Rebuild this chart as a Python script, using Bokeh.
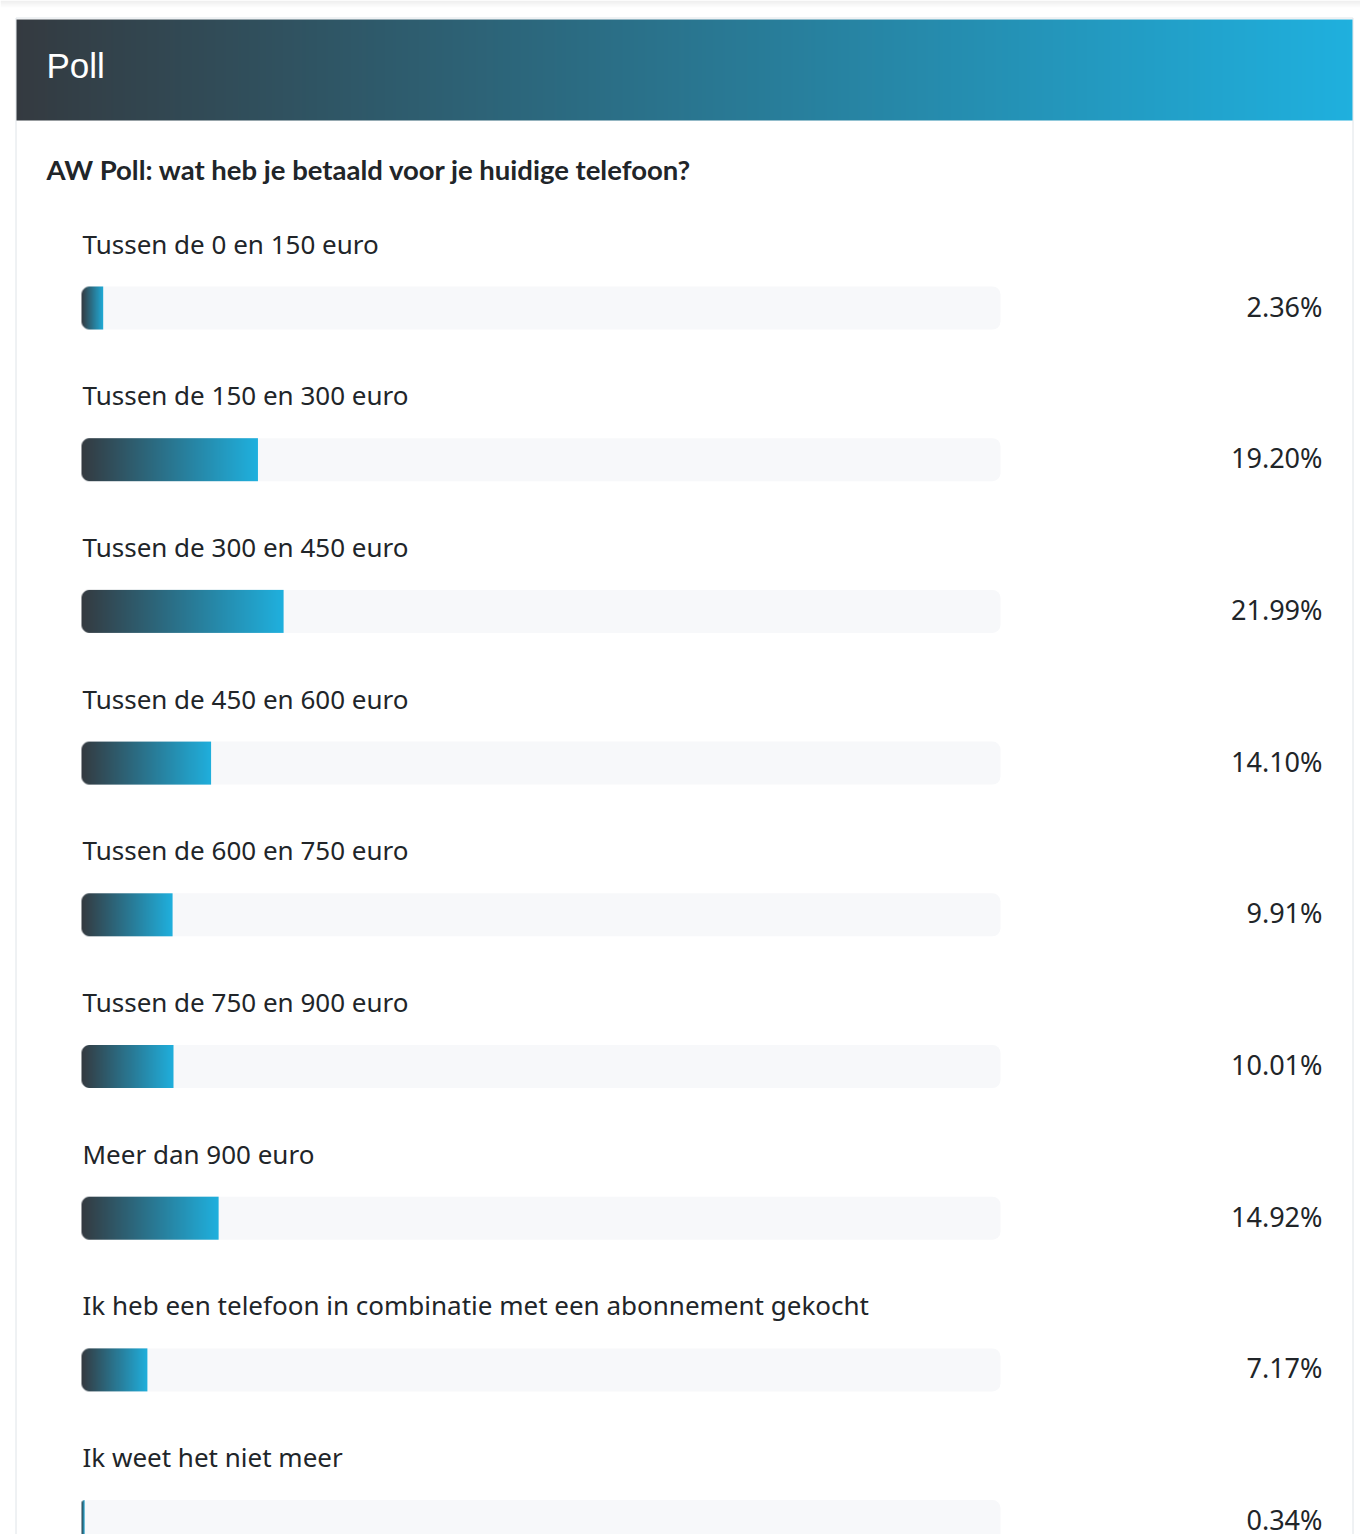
import numpy as np
from bokeh.plotting import figure
from bokeh.models import Range1d
from bokeh.core.properties import value
from bokeh.embed import file_html
from bokeh.resources import INLINE

# ---------------- data ----------------
header_text = "Poll"
question = "AW Poll: wat heb je betaald voor je huidige telefoon?"
options = [
    "Tussen de 0 en 150 euro",
    "Tussen de 150 en 300 euro",
    "Tussen de 300 en 450 euro",
    "Tussen de 450 en 600 euro",
    "Tussen de 600 en 750 euro",
    "Tussen de 750 en 900 euro",
    "Meer dan 900 euro",
    "Ik heb een telefoon in combinatie met een abonnement gekocht",
    "Ik weet het niet meer",
]
percentages = [2.36, 19.20, 21.99, 14.10, 9.91, 10.01, 14.92, 7.17, 0.34]

# ---------------- layout (picture pixels) ----------------
ORIGIN = 0
W, H = 1360, 1534
PAGE_BOTTOM = ORIGIN + H
TRACK_L, TRACK_R = 81, 1000
PX_PER_PCT = (TRACK_R - TRACK_L) / 100.0
ROW0, ROW_STEP = 307.5, 151.7
BAR_H = 43
RADIUS = 8

DARK = np.array([52, 58, 64], dtype=float)
CYAN = np.array([31, 176, 222], dtype=float)
LABEL_FONT = "Noto Sans"


def X(px):   # picture x -> data x (percent units)
    return (px - TRACK_L) / PX_PER_PCT


def Y(py):   # picture y -> data y (upwards)
    return PAGE_BOTTOM - py


def gradient_image(w, h, r, c0=DARK, c1=CYAN):
    w = max(int(round(w)), 1)
    t = (np.arange(w) + 0.5) / w
    cols = c0[None, :] + (c1 - c0)[None, :] * t[:, None]
    img = np.zeros((h, w, 4), dtype=np.uint8)
    img[:, :, :3] = np.round(cols).astype(np.uint8)[None, :, :]
    alpha = np.ones((h, w))
    r = min(r, w)
    if r > 0:
        yy, xx = np.mgrid[0:h, 0:w]
        cx = xx + 0.5
        cy = yy + 0.5
        for ccy in (r, h - r):
            d = np.sqrt((cx - r) ** 2 + (cy - ccy) ** 2)
            region = (cx < r) & ((cy < r) if ccy == r else (cy > h - r))
            a = np.clip(r - d + 0.5, 0, 1)
            alpha = np.where(region, np.minimum(alpha, a), alpha)
    img[:, :, 3] = np.round(alpha * 255).astype(np.uint8)
    return img.view(np.uint32).reshape(h, w)


p = figure(width=W, height=H, output_backend="svg", toolbar_location=None,
           x_axis_type=None, y_axis_type=None,
           x_range=Range1d(X(ORIGIN), X(ORIGIN + W)), y_range=Range1d(0, H),
           min_border=0, outline_line_color=None, background_fill_color="white",
           border_fill_color="white")
p.grid.visible = False

# faint top shadow (vertical fade)
shade = np.zeros((8, 1, 4), dtype=np.uint8)
shade[:, 0, :3] = 225
shade[:, 0, 3] = np.round(np.linspace(0, 140, 8)).astype(np.uint8)  # row 0 = bottom
p.image_rgba(image=[shade.view(np.uint32).reshape(8, 1)], x=X(0), y=Y(8),
             dw=X(1368) - X(0), dh=8)

# card border
p.quad(left=[X(15.5)], right=[X(1352.5)], top=[Y(17.5)], bottom=[Y(1600)],
       fill_color=None, line_color="#dfe4e8", line_width=1)

# header gradient
hw = 1336
header = gradient_image(hw, 1, 0)
p.image_rgba(image=[header], x=X(16), y=Y(120), dw=X(16 + hw) - X(16), dh=101)
p.text(x=[X(46)], y=[Y(65)], text=[header_text], text_color="white",
       text_font=value("Liberation Sans"), text_font_size="35px",
       text_baseline="middle", text_align="left")

# question
p.text(x=[X(46)], y=[Y(169)], text=[question], text_color="#212529",
       text_font=value("Lato"), text_font_style="bold", text_font_size="27.5px",
       text_baseline="middle", text_align="left")

centers = [ROW0 + i * ROW_STEP for i in range(len(options))]

# tracks
p.quad(left=[0] * len(options), right=[100] * len(options),
       top=[Y(c - BAR_H / 2) for c in centers],
       bottom=[Y(c + BAR_H / 2) for c in centers],
       fill_color="#f7f8fa", line_color=None, border_radius=RADIUS)

# filled bars (gradient, width from data)
for c, pct in zip(centers, percentages):
    img = gradient_image(pct * PX_PER_PCT, BAR_H, RADIUS)
    p.image_rgba(image=[img], x=0, y=Y(c + BAR_H / 2), dw=pct, dh=BAR_H)

# option labels
p.text(x=[X(82)] * len(options), y=[Y(c - 64.5) for c in centers], text=options,
       text_color="#212529", text_font=value(LABEL_FONT), text_font_size="26px",
       text_baseline="middle", text_align="left")

# percentages
p.text(x=[X(1322)] * len(options), y=[Y(c - 2) for c in centers],
       text=["%.2f%%" % v for v in percentages],
       text_color="#212529", text_font=value(LABEL_FONT), text_font_size="27px",
       text_baseline="middle", text_align="right")

open("out.html", "w").write(file_html(p, INLINE))
